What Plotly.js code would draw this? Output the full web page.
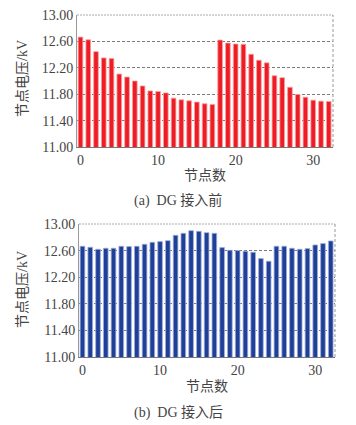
<!DOCTYPE html>
<html><head><meta charset="utf-8">
<script src="https://cdn.plot.ly/plotly-3.0.1.min.js"></script>
<style>html,body{margin:0;padding:0;background:#fff}#c{width:356px;height:425px}</style>
</head><body><div id="c"></div>
<script>
const nodes = Array.from({length:33}, (_, i) => i);
const voltBefore = [12.665,12.625,12.445,12.35,12.34,12.105,12.06,12.00,11.925,11.85,11.84,11.82,11.74,11.715,11.70,11.68,11.655,11.645,12.62,12.575,12.56,12.555,12.405,12.315,12.275,12.08,12.05,11.905,11.795,11.755,11.71,11.695,11.69];
const voltAfter = [12.665,12.65,12.62,12.635,12.635,12.665,12.66,12.665,12.695,12.725,12.735,12.75,12.83,12.86,12.90,12.89,12.87,12.86,12.645,12.605,12.60,12.59,12.575,12.48,12.44,12.665,12.665,12.635,12.62,12.63,12.685,12.705,12.745];
const yTicks = [11.0,11.4,11.8,12.2,12.6];
const yTickAll = [11.0,11.4,11.8,12.2,12.6,13.0];
const xTicks = [0,10,20,30];
const yTitle = '节点电压/kV';
const xTitle = '节点数';
const captionA = '(a)  DG 接入前';
const captionB = '(b)  DG 接入后';

const W=356,H=425;
const px=v=>v/W, py=v=>1-v/H;
const font = {family:'Liberation Serif, Noto Sans CJK SC, serif', size:14, color:'#444'};
const cjk = {family:'Liberation Serif, Noto Sans CJK SC, sans-serif', size:14, color:'#444'};

const traces = [
  {type:'bar', x:nodes, y:voltBefore, xaxis:'x', yaxis:'y', width:0.6,
   marker:{color:'#ee1c24', line:{color:'#f8a0a0', width:0.8}}, hoverinfo:'skip'},
  {type:'bar', x:nodes, y:voltAfter, xaxis:'x2', yaxis:'y2', width:0.6,
   marker:{color:'#1f3f98', line:{color:'#9fb0dc', width:0.8}}, hoverinfo:'skip'}
];
function xa(dom, anchor){return {domain:dom, anchor:anchor, range:[-0.45,32.55], tickvals:xTicks, ticktext:xTicks.map(String),
  showline:true, linecolor:'#777', linewidth:1, showgrid:false, zeroline:false, ticks:'', tickfont:font, fixedrange:true};}
function ya(dom, anchor){return {domain:dom, anchor:anchor, range:[11,13], tickvals:yTickAll, ticktext:yTickAll.map(v=>v.toFixed(2)),
  showline:true, linecolor:'#999', linewidth:1, showgrid:true, gridcolor:'#7a7a7a', griddash:'3px,2px', gridwidth:1, zeroline:false, ticks:'', tickfont:font, fixedrange:true};}
function ann(text, x, y, angle){return {text:text, xref:'paper', yref:'paper', x:px(x), y:py(y), xanchor:'center', yanchor:'middle', textangle:angle||0, showarrow:false, font:cjk};}
const layout = {
  width:W, height:H, margin:{l:0,r:0,t:0,b:0}, paper_bgcolor:'#fff', plot_bgcolor:'#fff', showlegend:false,
  bargap:0,
  xaxis: xa([px(77),px(333)],'y'),
  yaxis: ya([py(147),py(15)],'x'),
  xaxis2: xa([px(79),px(335)],'y2'),
  yaxis2: ya([py(357),py(224)],'x2'),
  shapes:[
    {type:'line', xref:'x domain', yref:'y domain', x0:0, x1:1, y0:1, y1:1, line:{color:'#fff', width:2}},
    {type:'line', xref:'x2 domain', yref:'y2 domain', x0:0, x1:1, y0:1, y1:1, line:{color:'#fff', width:2}},
    {type:'line', xref:'x domain', yref:'y domain', x0:0, x1:1, y0:1, y1:1, line:{color:'#aaa', width:1, dash:'2px,1px'}},
    {type:'line', xref:'x2 domain', yref:'y2 domain', x0:0, x1:1, y0:1, y1:1, line:{color:'#aaa', width:1, dash:'2px,1px'}},
    {type:'line', xref:'x domain', yref:'y domain', x0:1, x1:1, y0:0, y1:1, line:{color:'#999', width:1, dash:'3px,2px'}},
    {type:'line', xref:'x2 domain', yref:'y2 domain', x0:1, x1:1, y0:0, y1:1, line:{color:'#999', width:1, dash:'3px,2px'}}
  ],
  annotations:[
    ann(yTitle, 22, 79, -90),
    ann(yTitle, 22, 290, -90),
    ann(xTitle, 205, 176),
    ann(xTitle, 207, 386),
    ann(captionA, 178, 201),
    ann(captionB, 178, 412)
  ]
};
Plotly.newPlot('c', traces, layout, {staticPlot:true, displayModeBar:false});
</script></body></html>
